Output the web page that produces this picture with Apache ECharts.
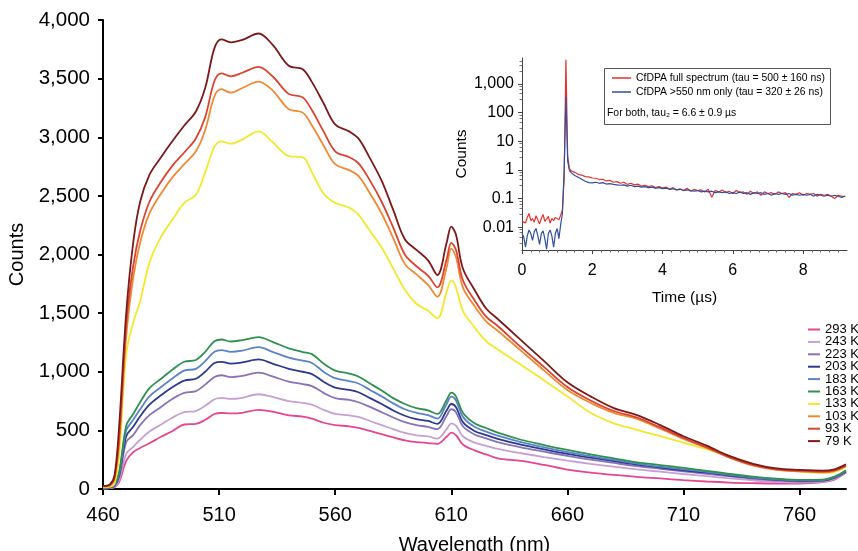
<!DOCTYPE html>
<html><head><meta charset="utf-8">
<script src="https://cdn.jsdelivr.net/npm/echarts@6/dist/echarts.min.js"></script>
<style>html,body{margin:0;padding:0;background:#fff}#c{width:858px;height:551px}</style>
</head><body><div id="c"></div>
<script>
// ---- main spectrum data ----
const wavelengths = [460,463,465,467,470, 473,476,480,485,490, 495,500,504,508,511, 515,520,527,533,540, 546,550,555,560,566, 570,575,580,585,590, 595,600,604,608,610, 612,615,620,625,630, 640,650,660,670,680, 690,700,710,720,730, 740,750,760,770,775, 780];
const seriesNames = ['293 K','243 K','223 K','203 K','183 K','163 K','133 K','103 K','93 K','79 K'];
const seriesColors = ['#e5468f','#c6a0d2','#8a72b8','#2c3a8e','#5c83c9','#2f9150','#f2e82c','#ef8a34','#da4330','#7c1a1a'];
const k293 = [5,7,15,60,240, 315,350,390,445,495, 550,555,590,640,648, 645,650,674,660,628, 618,600,565,545,535, 522,495,468,440,415, 400,392,385,445,480, 460,380,330,295,262, 240,205,165,140,120, 103,90,76,64,55, 50,47,47,58,80, 140];
const k243 = [5,8,18,80,300, 360,420,490,550,610, 655,665,710,765,778, 768,778,808,785,750, 735,720,675,640,628, 615,580,545,510,478, 458,448,430,510,560, 540,450,395,368,342, 305,272,242,215,190, 167,148,128,110,90, 73,60,55,60,85, 140];
const k223 = [6,10,25,100,400, 460,545,630,700,770, 820,835,890,955,970, 955,965,992,960,915, 895,878,820,775,760, 740,700,655,610,570, 545,530,510,625,680, 655,535,465,432,400, 355,318,282,250,222, 195,172,150,130,107, 87,72,64,68,92, 145];
const k203 = [8,12,30,120,450, 530,620,720,800,870, 925,940,1000,1075,1085, 1070,1080,1105,1070,1025, 1000,980,915,865,845, 825,775,725,670,625, 595,580,555,670,725, 700,570,495,460,428, 378,338,300,267,237, 207,182,160,140,115, 94,78,70,73,97, 150];
const k183 = [10,14,35,135,500, 590,680,790,870,945, 1010,1025,1090,1170,1185, 1170,1180,1210,1170,1120, 1095,1075,1000,945,920, 900,845,790,730,680, 650,630,600,725,787, 755,615,530,490,455, 400,355,315,280,248, 216,190,168,146,120, 98,82,73,76,100, 155];
const k163 = [10,15,40,150,540, 640,740,860,940,1020, 1085,1100,1170,1260,1275, 1258,1270,1295,1255,1200, 1168,1150,1070,1010,985, 960,900,840,775,725, 690,670,640,760,822, 790,650,560,520,480, 420,375,333,295,262, 228,204,180,155,128, 105,88,78,80,105, 160];
const k133 = [15,20,50,300,1150, 1420,1600,1930,2150,2300, 2440,2510,2700,2920,2965, 2945,2980,3050,2960,2840, 2830,2700,2520,2440,2400, 2340,2200,2060,1880,1700, 1580,1520,1455,1680,1780, 1720,1520,1380,1260,1190, 1060,925,790,650,560, 505,450,395,340,275, 212,170,148,138,146, 190];
const k103 = [20,30,90,400,1300, 1800,2100,2350,2520,2660, 2770,2880,3060,3350,3410, 3380,3420,3475,3400,3240, 3210,3100,2930,2770,2720, 2670,2520,2350,2140,1920, 1830,1740,1640,1890,2050, 1980,1720,1560,1430,1350, 1180,1010,845,735,650, 598,515,428,350,265, 200,163,150,143,153, 195];
const k93  = [25,35,100,450,1400, 1900,2200,2450,2620,2760, 2870,2990,3170,3480,3545, 3520,3550,3600,3520,3370, 3340,3230,3050,2880,2830, 2780,2630,2450,2230,2000, 1900,1820,1720,1960,2100, 2040,1780,1610,1470,1390, 1210,1040,870,755,665, 610,525,435,355,270, 205,168,155,148,158, 200];
const k79  = [25,40,120,550,1500, 2100,2450,2680,2830,2970, 3100,3220,3420,3760,3835, 3810,3830,3885,3790,3610, 3580,3470,3290,3110,3050, 2990,2820,2630,2380,2130, 2040,1950,1825,2100,2237, 2170,1880,1700,1540,1450, 1270,1090,910,790,690, 630,545,450,370,280, 215,175,163,157,168, 210];
const seriesValues = [k293,k243,k223,k203,k183,k163,k133,k103,k93,k79];
const xTickLabels = [460,510,560,610,660,710,760];

// ---- inset decay data ----
const insetTime = [0,0.05,0.1,0.15,0.2,0.25,0.3,0.35,0.4,0.45,0.5,0.55,0.6,0.65,0.7,0.75,0.8,0.85,0.9,0.95,1.0,1.05,1.1,
  1.15,1.2,1.25,1.3,1.35,
  1.4,1.5,1.6,1.7,1.8,1.9,2.0,2.1,2.2,2.3,2.4,2.5,2.6,2.7,2.8,2.9,3.0,3.1,3.2,3.3,3.4,3.5,3.6,3.7,3.8,3.9,
  4.0,4.1,4.2,4.3,4.4,4.5,4.6,4.7,4.8,4.9,5.0,5.1,5.2,5.3,5.4,5.5,5.6,5.7,5.8,5.9,6.0,6.1,6.2,6.3,6.4,6.5,
  6.6,6.7,6.8,6.9,7.0,7.1,7.2,7.3,7.4,7.5,7.6,7.7,7.8,7.9,8.0,8.1,8.2,8.3,8.4,8.5,8.6,8.7,8.8,8.9,9.0,9.1,9.2];
const insetFull = [0.016,0.018,0.014,0.022,0.03,0.017,0.02,0.015,0.025,0.018,0.013,0.02,0.028,0.016,0.019,0.024,0.014,0.02,0.017,0.022,0.025,0.018,0.026,
  0.04,0.5,7000,3,1.1,
  0.92,0.82,0.70,0.66,0.58,0.57,0.52,0.51,0.46,0.47,0.41,0.43,0.37,0.39,0.34,0.37,0.31,0.34,0.30,0.32,0.27,0.29,0.26,0.28,0.24,0.26,
  0.23,0.25,0.21,0.24,0.20,0.22,0.19,0.23,0.18,0.21,0.19,0.20,0.17,0.21,0.11,0.19,0.17,0.20,0.16,0.18,0.15,0.19,0.16,0.17,0.14,0.18,
  0.15,0.17,0.13,0.17,0.15,0.16,0.14,0.17,0.15,0.16,0.11,0.15,0.14,0.16,0.13,0.15,0.14,0.15,0.12,0.14,0.13,0.14,0.12,0.10,0.13,0.12,0.12];
const insetLong = [0.006,0.0045,0.002,0.005,0.008,0.006,0.0035,0.007,0.009,0.005,0.0025,0.006,0.0075,0.004,0.0017,0.006,0.008,0.005,0.002,0.006,0.009,0.004,0.012,
  0.03,1.0,350,2,0.95,
  0.80,0.64,0.55,0.47,0.40,0.36,0.35,0.37,0.34,0.36,0.32,0.33,0.31,0.30,0.29,0.30,0.27,0.29,0.26,0.27,0.25,0.26,0.24,0.25,0.23,0.24,
  0.22,0.23,0.21,0.22,0.20,0.21,0.19,0.20,0.19,0.18,0.19,0.17,0.18,0.17,0.18,0.16,0.17,0.16,0.17,0.15,0.16,0.15,0.17,0.15,0.16,0.14,
  0.16,0.15,0.16,0.14,0.15,0.13,0.15,0.14,0.15,0.14,0.15,0.13,0.14,0.13,0.14,0.13,0.14,0.12,0.14,0.13,0.12,0.13,0.12,0.13,0.12,0.11,0.12];
const insetNames = ['CfDPA full spectrum (tau = 500 \u00b1 160 ns)', 'CfDPA >550 nm only (tau = 320 \u00b1 26 ns)'];
const insetColors = ['#e3312d', '#2f4e9c'];
const insetYLabels = [0.01, 0.1, 1, 10, 100, 1000];
const insetXLabels = [0, 2, 4, 6, 8];

const FONT = '"Liberation Sans", Arial, Helvetica, sans-serif';
const chart = echarts.init(document.getElementById('c'), null, {renderer: 'canvas'});

const series = seriesNames.map((n, i) => ({
  name: n, type: 'line', xAxisIndex: 0, yAxisIndex: 0,
  data: wavelengths.map((w, j) => [w, seriesValues[i][j]]),
  smooth: 0.35, showSymbol: false, symbol: 'none',
  lineStyle: {color: seriesColors[i], width: 1.8},
  itemStyle: {color: seriesColors[i]},
  z: 2 + i, animation: false
}));
insetNames.forEach((n, i) => {
  const vals = i === 0 ? insetFull : insetLong;
  series.push({
    name: n, type: 'line', xAxisIndex: 1, yAxisIndex: 1,
    data: insetTime.map((t, j) => [t, vals[j]]),
    showSymbol: false, symbol: 'none',
    lineStyle: {color: insetColors[i], width: 1.2},
    itemStyle: {color: insetColors[i]},
    z: i === 0 ? 3 : 4, animation: false
  });
});

const option = {
  animation: false,
  backgroundColor: '#fff',
  textStyle: {fontFamily: FONT},
  grid: [
    {left: 103, right: 12, top: 20, bottom: 62, outerBoundsMode: 'none', containLabel: false},
    {left: 522, right: 11, top: 58, height: 192, outerBoundsMode: 'none', containLabel: false}
  ],
  xAxis: [
    {
      type: 'value', gridIndex: 0, min: 460, max: 780,
      name: 'Wavelength (nm)', nameLocation: 'middle', nameGap: 46,
      nameTextStyle: {fontSize: 20, color: '#000', fontFamily: FONT},
      axisLine: {lineStyle: {color: '#000', width: 2}},
      axisTick: {length: 6, lineStyle: {color: '#000', width: 2}, customValues: xTickLabels},
      axisLabel: {customValues: xTickLabels, fontSize: 20, color: '#000', margin: 16, fontFamily: FONT},
      splitLine: {show: false}
    },
    {
      type: 'value', gridIndex: 1, min: 0, max: 9.25,
      name: 'Time (\u00b5s)', nameLocation: 'middle', nameGap: 40,
      nameTextStyle: {fontSize: 15.5, color: '#000', fontFamily: FONT},
      axisLine: {lineStyle: {color: '#444', width: 1}},
      axisTick: {length: 4, lineStyle: {color: '#444'}, customValues: insetXLabels},
      minorTick: {show: true, splitNumber: 8, length: 2.5, lineStyle: {color: '#666'}},
      axisLabel: {customValues: insetXLabels, fontSize: 16, color: '#000', margin: 13, fontFamily: FONT},
      splitLine: {show: false}, minorSplitLine: {show: false}
    }
  ],
  yAxis: [
    {
      type: 'value', gridIndex: 0, min: 0, max: 4000, interval: 500,
      name: 'Counts', nameLocation: 'middle', nameGap: 74,
      nameTextStyle: {fontSize: 20, color: '#000', fontFamily: FONT},
      axisLine: {show: true, lineStyle: {color: '#000', width: 2}},
      axisTick: {show: true, length: 5, lineStyle: {color: '#000', width: 2}},
      axisLabel: {fontSize: 20.5, color: '#000', margin: 13, fontFamily: FONT,
        formatter: v => v.toLocaleString('en-US')},
      splitLine: {show: false}
    },
    {
      type: 'log', gridIndex: 1, min: 0.0016, max: 8000, logBase: 10,
      name: 'Counts', nameLocation: 'middle', nameGap: 52,
      nameTextStyle: {fontSize: 15.5, color: '#000', fontFamily: FONT},
      axisLine: {show: true, lineStyle: {color: '#444', width: 1}},
      axisTick: {show: true, length: 4, lineStyle: {color: '#444'}, customValues: insetYLabels},
      minorTick: {show: true, splitNumber: 5, length: 2.5, lineStyle: {color: '#777'}},
      axisLabel: {customValues: insetYLabels, fontSize: 16, color: '#000', margin: 8, fontFamily: FONT,
        formatter: v => Number(v) >= 1000 ? Number(v).toLocaleString('en-US') : String(Number(v))},
      splitLine: {show: false}, minorSplitLine: {show: false}
    }
  ],
  legend: [
    {
      data: seriesNames, orient: 'vertical', left: 803, top: 318,
      icon: 'rect', itemWidth: 12, itemHeight: 2, itemGap: -0.6,
      textStyle: {fontSize: 13, lineHeight: 12.45, color: '#000', fontFamily: FONT},
      selectedMode: false
    },
    {
      data: insetNames, orient: 'vertical', left: 607, top: 67,
      icon: 'rect', itemWidth: 19, itemHeight: 1.5, itemGap: 2,
      textStyle: {fontSize: 10.4, lineHeight: 12, color: '#000', fontFamily: FONT},
      selectedMode: false, z: 20
    }
  ],
  graphic: [
    {type: 'rect', left: 604, top: 68, shape: {width: 226, height: 56},
     style: {fill: '#fff', stroke: '#555', lineWidth: 1}, z: 10},
    {type: 'text', left: 607, top: 108, z: 21,
     style: {text: 'For both, tau\u2082 = 6.6 \u00b1 0.9 \u00b5s', fontSize: 10.4, fill: '#000', fontFamily: FONT}}
  ],
  series: series
};
chart.setOption(option);
</script></body></html>
